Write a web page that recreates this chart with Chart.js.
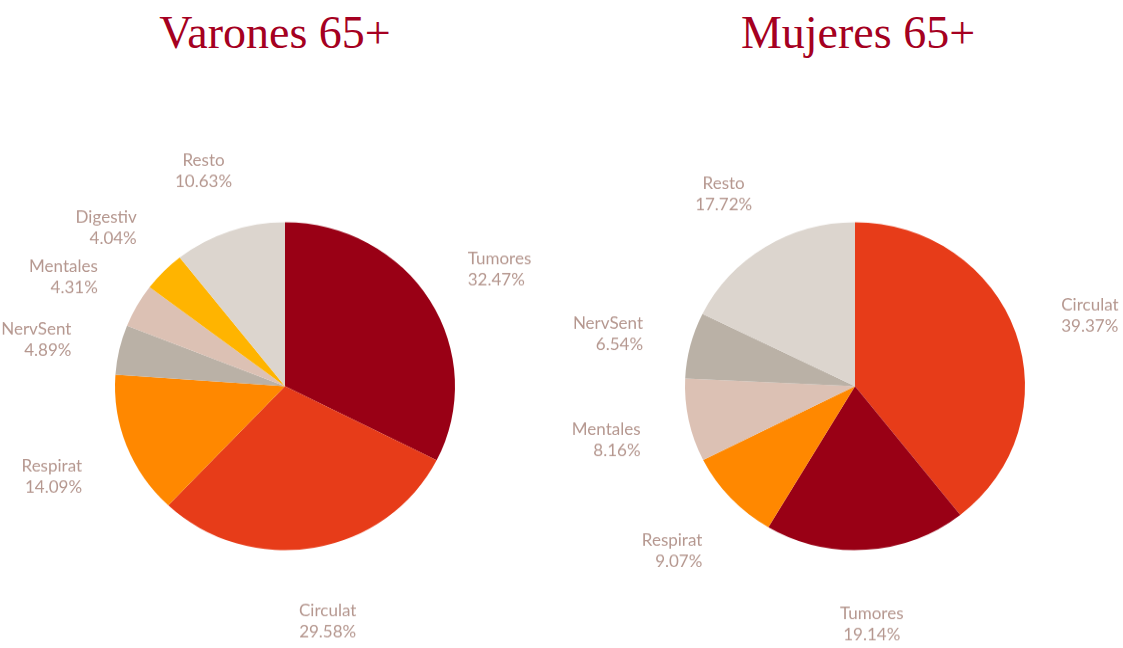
<!DOCTYPE html>
<html>
<head>
<meta charset="utf-8">
<script src="https://cdn.jsdelivr.net/npm/chart.js@4.4.0/dist/chart.umd.min.js"></script>
<style>
  html, body { margin: 0; padding: 0; background: #fff; overflow: hidden; width: 1123px; height: 648px; }
  .title { position: absolute; top: 6px; font-family: "Liberation Serif", serif; font-size: 46px; line-height: 54px; color: #a50021; text-align: center; }
  /* the original picture is slightly squashed vertically */
  .wrap { position: absolute; top: 0; width: 570px; height: 672px; transform: scaleY(0.9643); transform-origin: 0 0; }
</style>
</head>
<body>
<div class="title" style="left:0; width:550px;">Varones 65+</div>
<div class="title" style="left:570px; width:576px;">Mujeres 65+</div>
<div class="wrap" style="left:0"><canvas id="varones" width="570" height="672"></canvas></div>
<div class="wrap" style="left:570px"><canvas id="mujeres" width="570" height="672"></canvas></div>
<script>
const varonesLabels = ['Tumores', 'Circulat', 'Respirat', 'NervSent', 'Mentales', 'Digestiv', 'Resto'];
const varonesValues = [32.47, 29.58, 14.09, 4.89, 4.31, 4.04, 10.63];

const mujeresLabels = ['Circulat', 'Tumores', 'Respirat', 'Mentales', 'NervSent', 'Resto'];
const mujeresValues = [39.37, 19.14, 9.07, 8.16, 6.54, 17.72];

const causeColors = {
    Tumores: '#990015',
    Circulat: '#e73c19',
    Respirat: '#ff8800',
    NervSent: '#bab1a6',
    Mentales: '#dcc1b4',
    Digestiv: '#ffb400',
    Resto: '#dcd5ce'
};

// labels outside each slice, Excel style
const outerLabels = {
    id: 'outerLabels',
    afterDatasetsDraw(chart) {
        const ctx = chart.ctx;
        const meta = chart.getDatasetMeta(0);
        const values = chart.data.datasets[0].data;
        ctx.save();
        ctx.font = '17px Lato';
        ctx.fillStyle = '#b5978f';
        ctx.textBaseline = 'middle';
        meta.data.forEach(function(arc, i) {
            const p = arc.getProps(['x', 'y', 'startAngle', 'endAngle', 'outerRadius'], true);
            const mid = (p.startAngle + p.endAngle) / 2;
            const dx = Math.cos(mid);
            const dy = Math.sin(mid);
            const dist = p.outerRadius + 50;
            const ax = p.x + dx * dist;
            const ay = p.y + dy * dist + 6;
            const lines = [chart.data.labels[i], values[i].toFixed(2) + '%'];
            const w = Math.max(...lines.map(l => ctx.measureText(l).width));
            const lh = 22;
            const h = lh * lines.length;
            const cx = ax + dx * w / 2;
            const cy = ay + dy * h / 2;
            let align = 'center';
            let tx = cx;
            if (dx > 0.6) { align = 'left'; tx = cx - w / 2; }
            else if (dx < -0.6) { align = 'right'; tx = cx + w / 2; }
            ctx.textAlign = align;
            lines.forEach(function(l, k) {
                ctx.fillText(l, tx, cy - h / 2 + lh * (k + 0.5));
            });
        });
        ctx.restore();
    }
};

function makePie(id, labels, values) {
    return new Chart(document.getElementById(id), {
        type: 'pie',
        data: {
            labels: labels,
            datasets: [{
                data: values,
                backgroundColor: labels.map(l => causeColors[l]),
                borderWidth: 0,
                radius: 170
            }]
        },
        options: {
            responsive: false,
            animation: false,
            layout: { padding: { top: 129, bottom: 0 } },
            plugins: {
                legend: { display: false },
                tooltip: { enabled: false }
            }
        },
        plugins: [outerLabels]
    });
}

makePie('varones', varonesLabels, varonesValues);
makePie('mujeres', mujeresLabels, mujeresValues);
</script>
</body>
</html>
